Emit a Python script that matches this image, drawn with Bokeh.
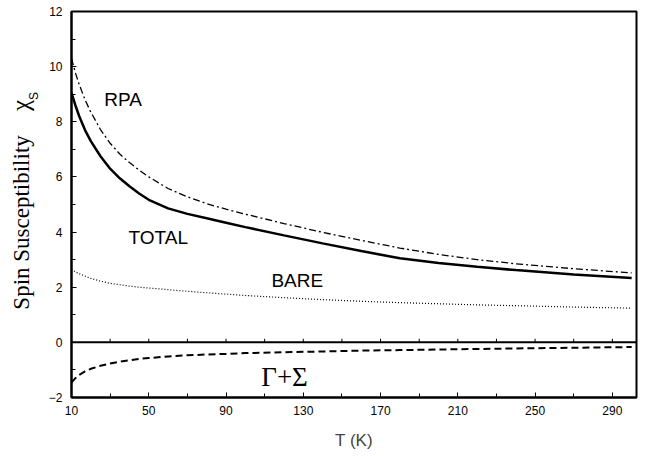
from bokeh.plotting import figure
from bokeh.layouts import row
from bokeh.models import Range1d, FixedTicker, Span, Label, ColumnDataSource
from bokeh.embed import file_html
from bokeh.resources import INLINE
import math

# ---- data ----
T = [10, 12, 14, 17, 20, 25, 30, 35, 40, 45, 50, 60, 70, 80, 90, 100, 120, 140, 160, 180, 200, 220, 240, 270, 300]
rpa = [10.3, 9.78, 9.35, 8.8, 8.35, 7.72, 7.22, 6.83, 6.52, 6.25, 6.0, 5.58, 5.28, 5.03, 4.83, 4.65,
       4.31, 3.99, 3.70, 3.42, 3.19, 3.00, 2.85, 2.67, 2.52]
total = [9.05, 8.6, 8.2, 7.7, 7.3, 6.75, 6.3, 5.95, 5.66, 5.40, 5.17, 4.86, 4.66, 4.50, 4.34, 4.18,
         3.88, 3.59, 3.31, 3.05, 2.88, 2.74, 2.62, 2.46, 2.33]
bare = [2.65, 2.56, 2.49, 2.40, 2.32, 2.22, 2.14, 2.09, 2.04, 2.00, 1.97, 1.91, 1.85, 1.80, 1.75, 1.70,
        1.62, 1.55, 1.49, 1.44, 1.40, 1.36, 1.33, 1.28, 1.24]
gamma_sigma = [-1.46, -1.30, -1.18, -1.05, -0.96, -0.85, -0.77, -0.70, -0.65, -0.60, -0.57, -0.51, -0.47,
               -0.44, -0.42, -0.39, -0.36, -0.33, -0.30, -0.28, -0.26, -0.24, -0.22, -0.195, -0.17]

x_major = [10, 50, 90, 130, 170, 210, 250, 290]
x_minor = [30, 70, 110, 150, 190, 230, 270]
y_major = [-2, 0, 2, 4, 6, 8, 10, 12]
y_minor = [-1, 1, 3, 5, 7, 9, 11]

src = ColumnDataSource(dict(T=T, rpa=rpa, total=total, bare=bare, gs=gamma_sigma))

p = figure(width=600, height=452, output_backend="svg", toolbar_location=None,
           x_range=Range1d(10, 302.5), y_range=Range1d(-2, 12),
           min_border_left=31, min_border_right=4, min_border_top=11, min_border_bottom=53)
p.background_fill_color = "white"
p.border_fill_color = "white"
p.outline_line_color = "black"
p.outline_line_width = 2
p.xgrid.visible = False
p.ygrid.visible = False

for ax in (p.xaxis[0], p.yaxis[0]):
    ax.axis_line_width = 2
    ax.axis_line_color = "black"
    ax.major_tick_in = 5
    ax.major_tick_out = 0
    ax.minor_tick_in = 4
    ax.minor_tick_out = 0
    ax.major_tick_line_width = 1
    ax.minor_tick_line_width = 1
    ax.major_label_text_font = "Liberation Sans"
    ax.major_label_text_font_size = "12px"
    ax.major_label_text_color = "black"
    ax.major_label_standoff = 8

p.yaxis.major_label_standoff = 9
p.xaxis.ticker = FixedTicker(ticks=x_major, minor_ticks=x_minor)
p.yaxis.ticker = FixedTicker(ticks=y_major, minor_ticks=y_minor)
p.xaxis.axis_label = "T (K)"
p.xaxis.axis_label_text_font = "Liberation Sans"
p.xaxis.axis_label_text_font_size = "17px"
p.xaxis.axis_label_text_font_style = "normal"
p.xaxis.axis_label_standoff = 13

# zero line with small ticks
p.add_layout(Span(location=0, dimension="width", line_color="black", line_width=2))
all_x = sorted(x_major + x_minor)
p.segment(x0=all_x, y0=[0] * len(all_x), x1=all_x, y1=[0.13] * len(all_x),
          line_color="black", line_width=1)

# curves
p.line("T", "rpa", source=src, line_color="black", line_width=1.3, line_dash="7 3 2 3")
p.line("T", "total", source=src, line_color="black", line_width=2.5)
p.line("T", "bare", source=src, line_color="black", line_width=1.2, line_dash="1 2")
p.line("T", "gs", source=src, line_color="black", line_width=2, line_dash="7 4")

def lab(fig, x, y, t, font, size, angle=0.0):
    fig.add_layout(Label(x=x, y=y, text=t, text_font=font, text_font_size=size, angle=angle,
                         text_align="center", text_baseline="middle", text_color="black"))

lab(p, 36.7, 8.82, "RPA", "Liberation Sans", "19px")
lab(p, 54.9, 3.79, "TOTAL", "Liberation Sans", "19px")
lab(p, 126.9, 2.23, "BARE", "Liberation Sans", "19px")
lab(p, 120.3, -1.25, "Γ+Σ", "Liberation Serif", "27px")

# narrow strip on the left carrying the y-axis title (page-pixel coordinates)
q = figure(width=40, height=452, output_backend="svg", toolbar_location=None,
           x_range=Range1d(0, 40), y_range=Range1d(452, 0),
           min_border_left=0, min_border_right=0, min_border_top=0, min_border_bottom=0)
q.axis.visible = False
q.xgrid.visible = False
q.ygrid.visible = False
q.outline_line_color = None
q.background_fill_color = "white"
q.border_fill_color = "white"

lab(q, 21, 247, "Spin Susceptibility", "Liberation Serif", "23px", math.pi / 2)
lab(q, 20, 110, "χ", "Liberation Serif", "25px", math.pi / 2)
lab(q, 33, 99, "S", "Liberation Sans", "12px", math.pi / 2)

layout = row(q, p, spacing=0)
open("out.html", "w").write(file_html(layout, INLINE))
